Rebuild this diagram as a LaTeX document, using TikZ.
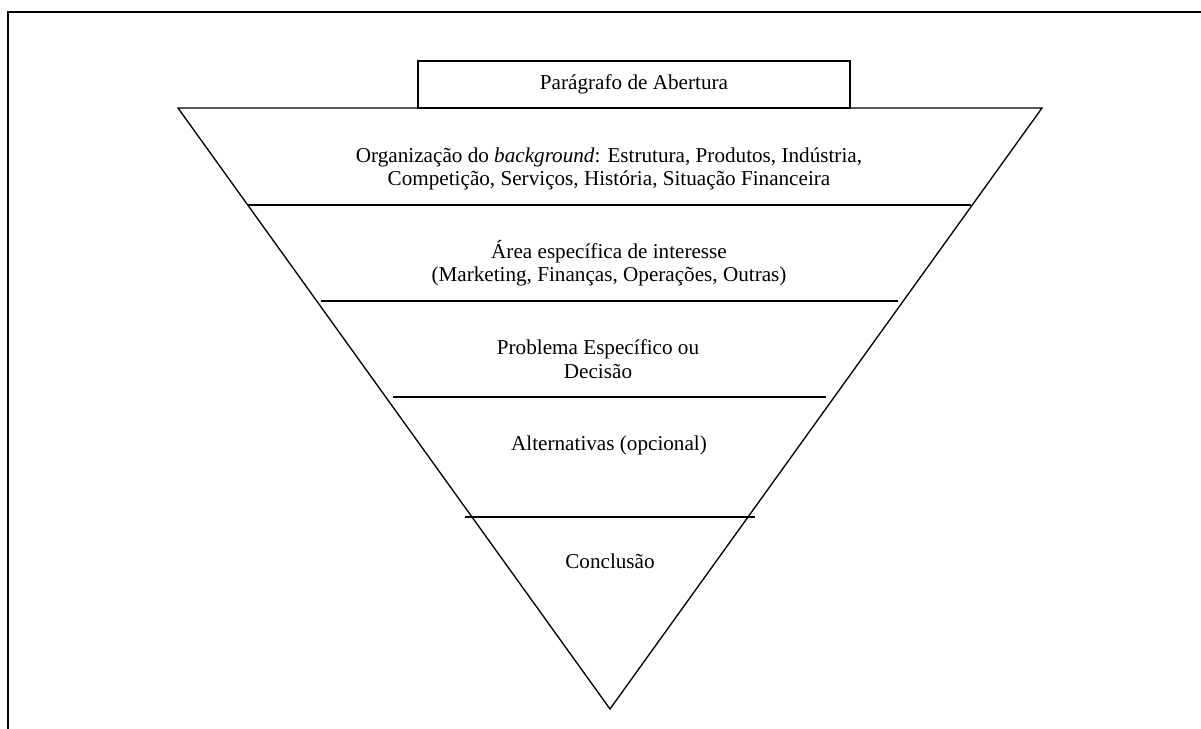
\documentclass[tikz,border=0pt]{standalone}
\usepackage{fontspec}
\setmainfont{Liberation Serif}
\begin{document}
\begin{tikzpicture}[x=0.6pt,y=-0.6pt]
\tikzset{
  edge/.style={line width=0.8pt},
  frameline/.style={line width=1.2pt},
  lbl/.style={font=\fontsize{12.7}{14}\selectfont, inner sep=0pt, anchor=base},
  topbox/.style={draw, line width=0.8pt, minimum width=259.2pt, minimum height=28.2pt, inner sep=0pt, font=\fontsize{12.7}{14}\selectfont}
}
\useasboundingbox (0,0) rectangle (1201,729);
\fill[white] (0,0) rectangle (1201,729);
% page frame
\draw[frameline] (8,729) -- (8,12) -- (1201,12);
% inverted triangle
\coordinate (tl) at (178,108);
\coordinate (tr) at (1042,108);
\coordinate (apex) at (610,709);
\draw[edge, line join=miter] (tl) -- (tr) -- (apex) -- cycle;
% opening box
\node[topbox] (abertura) at (634,84.5) {Parágrafo de Abertura};
% dividers
\coordinate (d1l) at (248,205);   \coordinate (d1r) at (971,205);
\coordinate (d2l) at (320.7,301); \coordinate (d2r) at (898.3,301);
\coordinate (d3l) at (393,397);   \coordinate (d3r) at (826,397);
\coordinate (d4l) at (465,517);   \coordinate (d4r) at (755,517);
\draw[edge] (d1l) -- (d1r);
\draw[edge] (d2l) -- (d2r);
\draw[edge] (d3l) -- (d3r);
\draw[edge] (d4l) -- (d4r);
% texts
\node[lbl] (org1) at (609,162.5) {Organização do \textit{background}: Estrutura, Produtos, Indústria,};
\node[lbl] (org2) at (609,185.5) {Competição, Serviços, História, Situação Financeira};
\node[lbl] (area1) at (609,258.5) {Área específica de interesse};
\node[lbl] (area2) at (609,281.5) {(Marketing, Finanças, Operações, Outras)};
\node[lbl] (prob1) at (598,354) {Problema Específico ou};
\node[lbl] (prob2) at (598,378) {Decisão};
\node[lbl] (alt) at (609,450) {Alternativas (opcional)};
\node[lbl] (conc) at (610,568.5) {Conclusão};
\end{tikzpicture}
\end{document}
